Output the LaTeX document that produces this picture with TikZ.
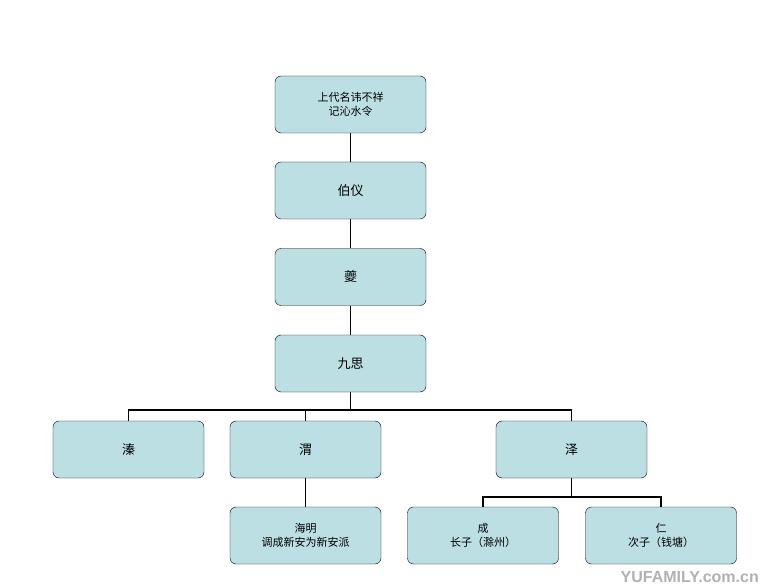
\documentclass[tikz,border=0pt]{standalone}
\usepackage{fontspec}
\setmainfont{Noto Sans CJK SC}
\newfontfamily\wm{Liberation Sans}
\begin{document}
\begin{tikzpicture}[x=1pt,y=-1pt,
  box/.style={draw=black,fill=boxc,rounded corners=6pt,minimum width=151pt,minimum height=57pt,inner sep=0pt,align=center,font=\fontsize{13}{15}\selectfont},
  sbox/.style={box,font=\fontsize{11}{14}\selectfont},
  ln/.style={line width=1.8pt}]
\definecolor{boxc}{HTML}{BCDFE3}
\useasboundingbox (0,0) rectangle (763,585);
\fill[white] (0,0) rectangle (763,585);
\node[sbox] (a) at (350.5,104.5) {上代名讳不祥\\记沁水令};
\node[box] (b) at (350.5,190.5) {伯仪};
\node[box] (c) at (350.5,277) {夔};
\node[box] (d) at (350.5,363.5) {九思};
\node[box] (e) at (128.5,449.5) {溱};
\node[box] (f) at (305.5,449.5) {渭};
\node[box] (g) at (571.5,449.5) {泽};
\node[sbox] (h) at (305.5,535.5) {海明\\调成新安为新安派};
\node[sbox] (i) at (483,535.5) {成\\长子（滁州）};
\node[sbox] (j) at (661,535.5) {仁\\次子（钱塘）};
\draw[ln] (a) -- (b);
\draw[ln] (b) -- (c);
\draw[ln] (c) -- (d);
\draw[ln] (d.south) -- ++(0,18) -| (e.north);
\draw[ln] (d.south) -- ++(0,18) -| (f.north);
\draw[ln] (d.south) -- ++(0,18) -| (g.north);
\draw[ln] (f) -- (h);
\draw[ln] (g.south) -- ++(0,19) -| (i.north);
\draw[ln] (g.south) -- ++(0,19) -| (j.north);
\node[anchor=south east,inner sep=1pt,font=\wm\bfseries\fontsize{16}{16}\selectfont,text=gray!60] (w) at (760,584) {YUFAMILY.com.cn};
\end{tikzpicture}
\end{document}
